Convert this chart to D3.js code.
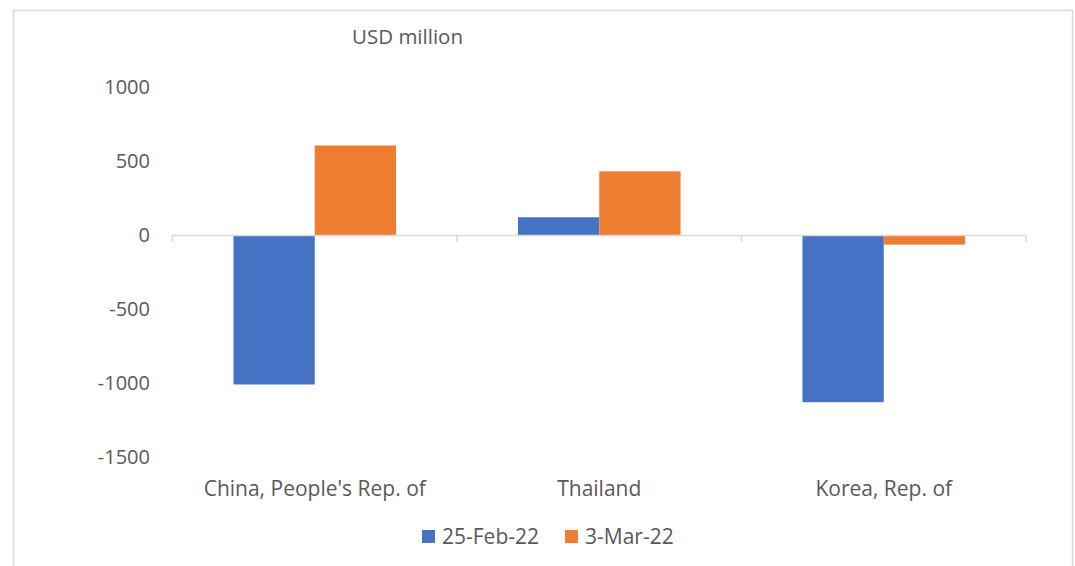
<!DOCTYPE html>
<html><head><meta charset="utf-8">
<script src="https://cdn.jsdelivr.net/npm/d3@7"></script>
<style>body{margin:0;background:#fff;} svg{display:block;}</style>
</head><body>
<svg id="c" width="1075" height="566"></svg>
<script>
const categories = ["China, People's Rep. of", "Thailand", "Korea, Rep. of"];
const seriesNames = ["25-Feb-22", "3-Mar-22"];
const feb25 = [-1010, 120, -1130];
const mar3 = [605, 430, -65];
const yTicks = [1000, 500, 0, -500, -1000, -1500];
const colors = ["#4472C4", "#ED7D31"];

const svg = d3.select("#c");
const font = "'Open Sans', sans-serif";
const textColor = "#595959";

svg.append("rect").attr("x", 13.5).attr("y", 10.5).attr("width", 1059).attr("height", 570)
  .attr("fill", "#fff").attr("stroke", "#d9d9d9").attr("stroke-width", 1.5);

const x0 = d3.scaleBand().domain(categories).range([172.5, 1026]).padding(0);
const y = d3.scaleLinear().domain([-1500, 1000]).range([457, 87]);
const bw = x0.bandwidth() / 3.5;
const x1 = d3.scaleBand().domain(seriesNames).range([0, 2 * bw]).padding(0);

const data = categories.map((c, i) => ({cat: c, vals: [feb25[i], mar3[i]]}));

// y tick labels
svg.append("g").selectAll("text").data(yTicks).join("text")
  .attr("x", 150).attr("y", d => y(d)).attr("dy", "0.35em")
  .attr("text-anchor", "end").attr("font-family", font).attr("font-size", 20)
  .attr("fill", textColor).text(d => d);

// bars
const g = svg.append("g");
data.forEach(d => {
  const cx = x0(d.cat) + x0.bandwidth() / 2 - bw;
  g.selectAll(null).data(d.vals.map((v, k) => ({v, k}))).join("rect")
    .attr("x", e => cx + x1(seriesNames[e.k]))
    .attr("width", x1.bandwidth())
    .attr("y", e => Math.min(y(e.v), y(0)))
    .attr("height", e => Math.abs(y(e.v) - y(0)))
    .attr("fill", e => colors[e.k]);
});

// zero axis
const axis = d3.axisBottom(x0).tickSize(0).tickFormat("");
const ag = svg.append("g").attr("transform", `translate(0,${y(0)})`).call(axis);
ag.select(".domain").attr("stroke", "#d9d9d9").attr("stroke-width", 1.5);
const bounds = [x0.range()[0]].concat(categories.map(c => x0(c) + x0.bandwidth()));
ag.selectAll(".bt").data(bounds).join("line").attr("class", "bt")
  .attr("x1", d => d).attr("x2", d => d).attr("y1", 0).attr("y2", 7)
  .attr("stroke", "#d9d9d9").attr("stroke-width", 1.5);

// category labels
svg.append("g").selectAll("text").data(categories).join("text")
  .attr("x", d => x0(d) + x0.bandwidth() / 2).attr("y", 489).attr("dy", "0.35em")
  .attr("text-anchor", "middle").attr("font-family", font).attr("font-size", 21)
  .attr("fill", textColor).text(d => d);

// axis title
svg.append("text").attr("x", 352).attr("y", 37).attr("dy", "0.35em")
  .attr("font-family", font).attr("font-size", 20.5).attr("fill", textColor).text("USD million");

// legend
const legX = [422, 565];
const lg = svg.append("g");
seriesNames.forEach((s, i) => {
  lg.append("rect").attr("x", legX[i]).attr("y", 530).attr("width", 13).attr("height", 13).attr("fill", colors[i]);
  lg.append("text").attr("x", legX[i] + 20).attr("y", 537).attr("dy", "0.35em")
    .attr("font-family", font).attr("font-size", 21).attr("fill", textColor).text(s);
});
</script>
</body></html>
